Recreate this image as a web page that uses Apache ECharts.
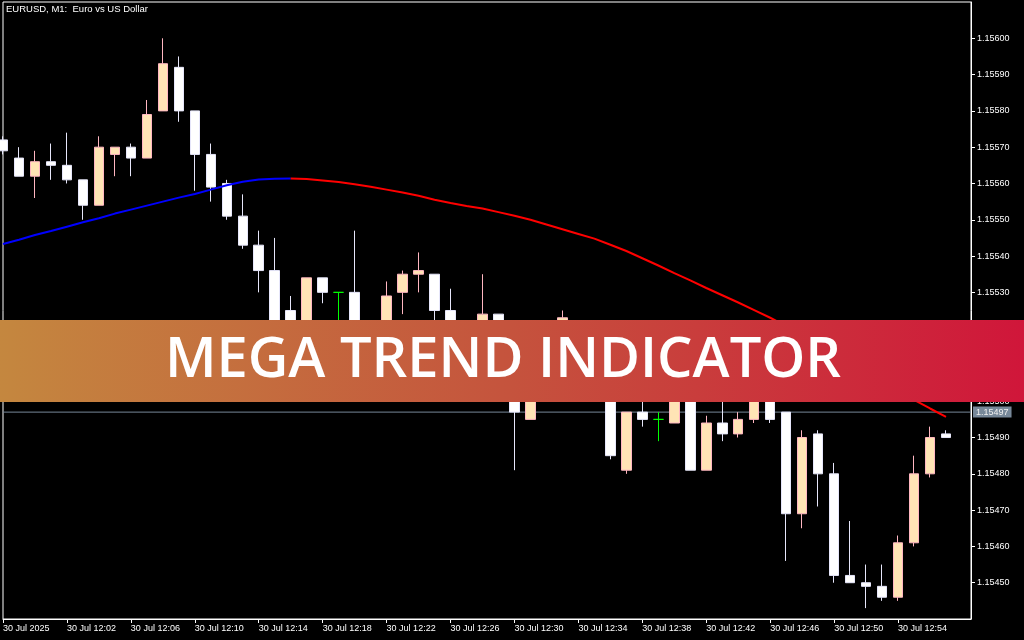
<!DOCTYPE html>
<html>
<head>
<meta charset="utf-8">
<script src="https://cdn.jsdelivr.net/npm/echarts@6/dist/echarts.min.js"></script>
<style>
html,body{margin:0;padding:0;background:#000;}
#chart{width:1024px;height:640px;}
</style>
</head>
<body>
<div id="chart"></div>
<script>
// bar times (M1), index 0..59
const times = ['11:58','11:59','12:00','12:01','12:02','12:03','12:04','12:05','12:06','12:07',
  '12:08','12:09','12:10','12:11','12:12','12:13','12:14','12:15','12:16','12:17',
  '12:18','12:19','12:20','12:21','12:22','12:23','12:24','12:25','12:26','12:27',
  '12:28','12:29','12:30','12:31','12:32','12:33','12:34','12:35','12:36','12:37',
  '12:38','12:39','12:40','12:41','12:42','12:43','12:44','12:45','12:46','12:47',
  '12:48','12:49','12:50','12:51','12:52','12:53','12:54','12:55','12:56','12:57'];

const opens = [1.15572,1.15567,1.15562,1.15566,1.15565,1.15561,1.15554,1.15568,1.15570,1.15567,
  1.15580,1.15592,1.15580,1.15568,1.15560,1.15551,1.15543,1.15536,1.15525,1.15513,
  1.15534,1.15530,1.15530,1.15508,1.15515,1.15530,1.15535,1.15535,1.15525,1.15510,
  1.15514,1.15524,1.15507,1.15495,1.15512,1.15506,1.15520,1.15512,1.15508,1.15481,
  1.15497,1.15495,1.15494,1.15514,1.15481,1.15494,1.15491,1.15495,1.15508,1.15497,
  1.15469,1.15491,1.15480,1.15452,1.15450,1.15449,1.15446,1.15461,1.15480,1.15491];
const closes = [1.15569,1.15562,1.15566,1.15565,1.15561,1.15554,1.15570,1.15570,1.15567,1.15579,
  1.15593,1.15580,1.15568,1.15559,1.15551,1.15543,1.15536,1.15518,1.15512,1.15534,
  1.15530,1.15530,1.15510,1.15518,1.15529,1.15535,1.15536,1.15525,1.15510,1.15516,
  1.15524,1.15508,1.15497,1.15512,1.15505,1.15523,1.15508,1.15503,1.15485,1.15497,
  1.15495,1.15495,1.15515,1.15481,1.15494,1.15491,1.15495,1.15508,1.15495,1.15469,
  1.15490,1.15480,1.15452,1.15450,1.15449,1.15446,1.15461,1.15480,1.15490,1.15490];
const lows = [1.15568,1.15562,1.15556,1.15561,1.15560,1.15550,1.15554,1.15562,1.15562,1.15567,
  1.15580,1.15577,1.15558,1.15555,1.15550,1.15542,1.15530,1.15512,1.15508,1.15510,
  1.15527,1.15515,1.15505,1.15504,1.15512,1.15524,1.15530,1.15518,1.15506,1.15507,
  1.15510,1.15503,1.15481,1.15495,1.15501,1.15502,1.15502,1.15501,1.15484,1.15480,
  1.15493,1.15489,1.15494,1.15481,1.15481,1.15489,1.15490,1.15494,1.15494,1.15456,
  1.15465,1.15471,1.15450,1.15450,1.15443,1.15445,1.15445,1.15460,1.15479,1.15490];
const highs = [1.15573,1.15570,1.15569,1.15571,1.15574,1.15561,1.15573,1.15570,1.15571,1.15583,
  1.15600,1.15595,1.15580,1.15571,1.15561,1.15557,1.15547,1.15545,1.15529,1.15534,
  1.15534,1.15530,1.15547,1.15520,1.15533,1.15536,1.15541,1.15535,1.15531,1.15520,
  1.15535,1.15524,1.15510,1.15516,1.15518,1.15525,1.15521,1.15516,1.15512,1.15497,
  1.15503,1.15497,1.15519,1.15518,1.15496,1.15503,1.15497,1.15512,1.15510,1.15497,
  1.15492,1.15492,1.15483,1.15467,1.15455,1.15455,1.15463,1.15485,1.15493,1.15492];

// Mega Trend line values (blue while rising, red while falling)
const trendValues = [1.155433,1.155445,1.155458,1.155469,1.155481,1.155493,1.155504,1.155517,1.155528,1.155539,
  1.155550,1.155561,1.155571,1.155583,1.155595,1.155605,1.155611,1.155613,1.155614,1.155612,
  1.155608,1.155604,1.155598,1.155591,1.155583,1.155575,1.155566,1.155555,1.155546,1.155538,
  1.155531,1.155521,1.155511,1.155500,1.155487,1.155474,1.155461,1.155448,1.155431,1.155414,
  1.155394,1.155374,1.155353,1.155333,1.155312,1.155292,1.155272,1.155251,1.155230,1.155207,
  1.155181,1.155156,1.155131,1.155105,1.155080,1.155055,1.155030,1.155004,1.154980,1.154957];
const trendTurnIndex = 18;

const currentPrice = 1.15497;

const xTickIdx = [0,4,8,12,16,20,24,28,32,36,40,44,48,52,56];
const xTickLabels = ['30 Jul 2025','30 Jul 12:02','30 Jul 12:06','30 Jul 12:10','30 Jul 12:14',
  '30 Jul 12:18','30 Jul 12:22','30 Jul 12:26','30 Jul 12:30','30 Jul 12:34','30 Jul 12:38',
  '30 Jul 12:42','30 Jul 12:46','30 Jul 12:50','30 Jul 12:54'];

const titleText = 'EURUSD, M1:  Euro vs US Dollar';
const bannerText = 'MEGA TREND INDICATOR';

const X_MAX = 60.5625;

// build series data
const candleData = times.map((t, i) => [i, opens[i], closes[i], lows[i], highs[i]]);
const upData = trendValues.map((v, i) => i <= trendTurnIndex ? [i, v] : [i, null]);
const downData = trendValues.map((v, i) => i >= trendTurnIndex ? [i, v] : [i, null]);
const priceLineData = [[0, currentPrice], [X_MAX, currentPrice]];

const FONT = '"Liberation Sans", Arial, sans-serif';
const chart = echarts.init(document.getElementById('chart'), null, {renderer: 'canvas'});
chart.setOption({
  backgroundColor: '#000',
  animation: false,
  grid: {
    left: 2, top: 2, width: 969, height: 617,
    show: true, borderColor: '#ffffff', borderWidth: 1, backgroundColor: '#000'
  },
  xAxis: {
    type: 'value',
    min: 0, max: X_MAX,
    splitLine: {show: false},
    axisLine: {show: true, onZero: false, lineStyle: {color: '#ffffff', width: 1}},
    axisTick: {show: true, length: 4, inside: false, lineStyle: {color: '#ffffff'}, customValues: xTickIdx},
    axisLabel: {
      customValues: xTickIdx,
      color: '#ffffff', fontFamily: FONT, fontSize: 9, align: 'left', margin: 5,
      formatter: v => { const k = xTickIdx.indexOf(Math.round(v)); return k >= 0 ? xTickLabels[k] : ''; }
    }
  },
  yAxis: {
    type: 'value', position: 'right',
    min: 1.1544, max: 1.1561, interval: 0.0001,
    splitLine: {show: false},
    axisLine: {show: true, onZero: false, lineStyle: {color: '#ffffff', width: 1}},
    axisTick: {show: true, length: 4, lineStyle: {color: '#ffffff'}},
    axisLabel: {
      color: '#ffffff', fontFamily: FONT, fontSize: 9, margin: 6,
      showMinLabel: false, showMaxLabel: false,
      formatter: v => v.toFixed(5)
    }
  },
  series: [
    {
      type: 'line', data: priceLineData, showSymbol: false, symbol: 'none', silent: true,
      lineStyle: {color: '#778899', width: 1}, z: 1,
      endLabel: {
        show: true, distance: 2,
        formatter: () => currentPrice.toFixed(5),
        color: '#F0F0F0', backgroundColor: '#778899',
        fontFamily: FONT, fontSize: 9, padding: [1, 3, 1, 3], lineHeight: 9
      }
    },
    {
      type: 'candlestick',
      data: candleData,
      encode: {x: 0, y: [1, 2, 3, 4]},
      barWidth: 10,
      itemStyle: {
        color: '#FFE4B5', color0: '#FFFFFF',
        borderColor: '#FFB6C1', borderColor0: '#E6E6FA',
        borderColorDoji: '#00FF00', borderWidth: 1
      },
      z: 2
    },
    {
      type: 'line', data: upData, showSymbol: false, symbol: 'none',
      lineStyle: {color: '#0000FF', width: 2}, connectNulls: false, z: 3
    },
    {
      type: 'line', data: downData, showSymbol: false, symbol: 'none',
      lineStyle: {color: '#FF0000', width: 2}, connectNulls: false, z: 3
    }
  ],
  graphic: [
    {
      type: 'text', left: 6, top: 4, z: 50,
      style: {text: titleText, fill: '#ffffff', font: '9.5px ' + FONT}
    },
    {
      type: 'rect', z: 100, silent: true,
      shape: {x: 0, y: 320, width: 1024, height: 82},
      style: {
        fill: new echarts.graphic.LinearGradient(0, 0, 1, 0, [
          {offset: 0, color: '#C4873F'},
          {offset: 0.5, color: '#C5533D'},
          {offset: 1, color: '#D0163A'}
        ])
      }
    },
    {
      type: 'text', z: 101, silent: true,
      x: 503, y: 361,
      style: {
        text: bannerText, fill: '#ffffff',
        font: '600 56px "Open Sans", sans-serif',
        textAlign: 'center', textVerticalAlign: 'middle'
      }
    }
  ]
});
</script>
</body>
</html>
